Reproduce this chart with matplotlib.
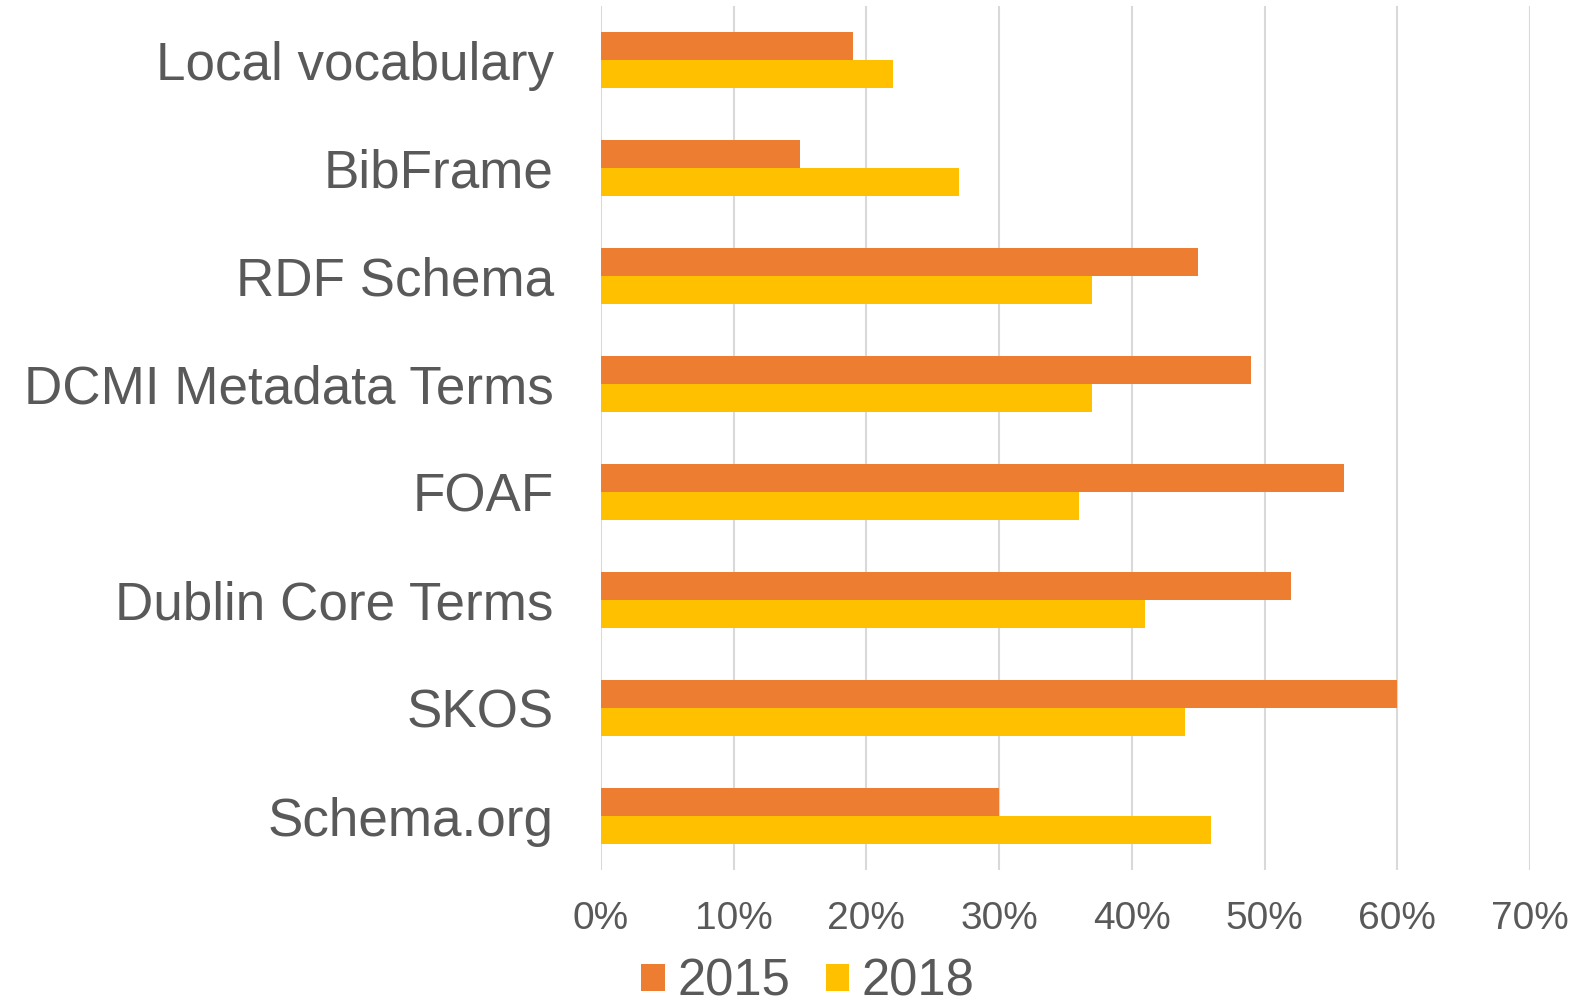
import numpy as np
import matplotlib
matplotlib.use("Agg")
import matplotlib.pyplot as plt
from matplotlib.ticker import FuncFormatter

# ── Data ──────────────────────────────────────────────
categories = ["Local vocabulary", "BibFrame", "RDF Schema", "DCMI Metadata Terms",
              "FOAF", "Dublin Core Terms", "SKOS", "Schema.org"]
vals_2015 = [19, 15, 45, 49, 56, 52, 60, 30]
vals_2018 = [22, 27, 37, 37, 36, 41, 44, 46]
x_ticks = [0, 10, 20, 30, 40, 50, 60, 70]

ORANGE = "#ED7D31"
YELLOW = "#FFC000"
TEXT   = "#595959"
GRID   = "#D9D9D9"

plt.rcParams["font.family"] = ["Liberation Sans", "DejaVu Sans"]

fig = plt.figure(figsize=(15.75, 10.06), dpi=100)
ax = fig.add_axes([0.3816, 0.135, 0.9714 - 0.3816, 0.994 - 0.135])

y = np.arange(len(categories))
h = 0.262
ax.barh(y - h / 2, vals_2015, height=h, color=ORANGE, label="2015", zorder=3)
ax.barh(y + h / 2, vals_2018, height=h, color=YELLOW, label="2018", zorder=3)

ax.set_ylim(len(categories) - 0.5, -0.5)
ax.set_xlim(0, 70)
ax.set_yticks(y)
ax.set_yticklabels(categories, fontsize=38.2, color=TEXT)
ax.set_xticks(x_ticks)
ax.xaxis.set_major_formatter(FuncFormatter(lambda v, _: f"{v:.0f}%"))
ax.tick_params(axis="x", labelsize=28, colors=TEXT, length=0, pad=22)
ax.tick_params(axis="y", length=0, pad=34)

ax.grid(axis="x", color=GRID, linewidth=1.5, zorder=0)
for s in ax.spines.values():
    s.set_visible(False)

fig.legend(loc="center", bbox_to_anchor=(0.513, 0.024), ncol=2, frameon=False,
           fontsize=36.5, labelcolor=TEXT, handlelength=0.46, handleheight=0.46,
           handletextpad=0.25, columnspacing=0.7, borderpad=0)

fig.savefig("out.png", dpi=100)
